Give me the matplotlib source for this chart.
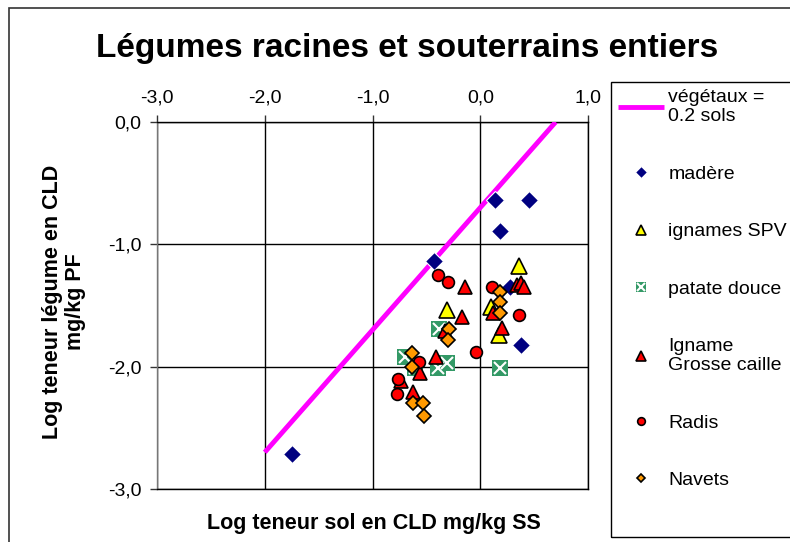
import matplotlib
matplotlib.use("Agg")
import matplotlib.pyplot as plt
from matplotlib.patches import Rectangle

plt.rcParams['font.family'] = ['Liberation Sans', 'DejaVu Sans']

# données (log teneur sol, log teneur légume)
ligne_x = [-2.0, 0.7]
ligne_y = [-2.7, 0.0]

madere_x = [-1.75, 0.14, 0.45, 0.18, -0.43, 0.28, 0.38]
madere_y = [-2.71, -0.64, -0.64, -0.89, -1.14, -1.35, -1.82]

spv_x = [0.36, -0.31, 0.10, 0.17]
spv_y = [-1.18, -1.54, -1.51, -1.74]

patate_x = [-0.38, -0.70, -0.61, -0.39, -0.31, 0.18]
patate_y = [-1.69, -1.92, -2.01, -2.01, -1.97, -2.01]

igname_x = [-0.14, -0.17, 0.34, 0.38, 0.41, 0.12, 0.20, -0.33, -0.41, -0.56, -0.62, -0.74]
igname_y = [-1.35, -1.59, -1.33, -1.32, -1.35, -1.56, -1.68, -1.71, -1.92, -2.05, -2.21, -2.12]

radis_x = [-0.39, -0.30, 0.11, 0.36, -0.04, -0.57, -0.76, -0.77]
radis_y = [-1.25, -1.31, -1.35, -1.58, -1.88, -1.96, -2.10, -2.22]

navets_x = [0.18, 0.18, 0.18, -0.29, -0.30, -0.63, -0.63, -0.62, -0.53, -0.52]
navets_y = [-1.39, -1.47, -1.56, -1.69, -1.78, -1.89, -2.00, -2.30, -2.30, -2.40]

x_ticks = [-3.0, -2.0, -1.0, 0.0, 1.0]
y_ticks = [0.0, -1.0, -2.0, -3.0]

W, H = 790, 542
fig = plt.figure(figsize=(W / 100, H / 100), dpi=100)
ax = fig.add_axes([157 / W, 1 - 489 / H, 431 / W, 367 / H])

# bordure du graphique (coupée à droite et en bas)
fig.patches.append(Rectangle((9 / W, -0.2), 1.0, 1.2 - 8 / H, transform=fig.transFigure,
                             fill=False, edgecolor='#333333', lw=1.2))
# cadre de la légende (dépasse à droite)
fig.patches.append(Rectangle((611 / W, 1 - 537 / H), 0.5, (537 - 82) / H,
                             transform=fig.transFigure, fill=False,
                             edgecolor='black', lw=1))

ax.set_xlim(-3, 1)
ax.set_ylim(-3, 0)
ax.set_xticks(x_ticks)
ax.set_yticks(y_ticks)
ax.set_xticklabels([f"{v:.1f}".replace('.', ',') for v in x_ticks])
ax.set_yticklabels([f"{v:.1f}".replace('.', ',') for v in y_ticks])
ax.xaxis.tick_top()
ax.tick_params(axis='both', labelsize=14, length=5, width=1, color='#333333', pad=6)
ax.grid(True, color='black', lw=1)
ax.set_axisbelow(True)
for s in ax.spines.values():
    s.set_color('black')
    s.set_linewidth(1)
ax.spines['left'].set_color('#777777')

ms_kw = dict(linestyle='none', markeredgecolor='black', markeredgewidth=1.2)

l_line, = ax.plot(ligne_x, ligne_y, color='#FF00FF', lw=3.5, solid_capstyle='butt', zorder=3)
l_mad, = ax.plot(madere_x, madere_y, marker='D', ms=9, color='#000080',
                 linestyle='none', markeredgecolor='white', markeredgewidth=0.8, zorder=4)
l_spv, = ax.plot(spv_x, spv_y, marker='^', ms=11, color='#FFFF00', zorder=5, **ms_kw)
l_pat_sq, = ax.plot(patate_x, patate_y, marker='s', ms=11, color='#339966',
                    linestyle='none', markeredgewidth=0, zorder=6)
l_pat_x, = ax.plot(patate_x, patate_y, marker='x', ms=8, color='white',
                   linestyle='none', markeredgewidth=1.5, zorder=6)
l_ign, = ax.plot(igname_x, igname_y, marker='^', ms=10, color='#FF0000', zorder=7, **ms_kw)
l_rad, = ax.plot(radis_x, radis_y, marker='o', ms=8.5, color='#FF0000', zorder=8, **ms_kw)
l_nav, = ax.plot(navets_x, navets_y, marker='D', ms=7, color='#FF9900', zorder=9, **ms_kw)

handles = [l_line, l_mad, l_spv, (l_pat_sq, l_pat_x), l_ign, l_rad, l_nav]
labels = ['végétaux =\n0.2 sols', 'madère', 'ignames SPV', 'patate douce',
          'Igname\nGrosse caille', 'Radis', 'Navets']
leg = fig.legend(handles, labels, loc='upper left', bbox_to_anchor=(611 / W, 1 - 82 / H),
                 borderaxespad=0, fontsize=14, markerscale=0.65, handlelength=2.4,
                 handletextpad=0.2, borderpad=0.35, labelspacing=2.05, frameon=False)

fig.text(407 / W, 1 - 48 / H, 'Légumes racines et souterrains entiers',
         ha='center', va='center', fontsize=24, fontweight='bold')
fig.text(374 / W, 1 - 524 / H, 'Log teneur sol en CLD mg/kg SS',
         ha='center', va='center', fontsize=15.5, fontweight='bold')
fig.text(64 / W, 1 - 302 / H, 'Log teneur légume en CLD\nmg/kg PF', rotation=90,
         ha='center', va='center', multialignment='center', fontsize=15.5,
         fontweight='bold', linespacing=1.1)

fig.savefig('out.png', dpi=100)
